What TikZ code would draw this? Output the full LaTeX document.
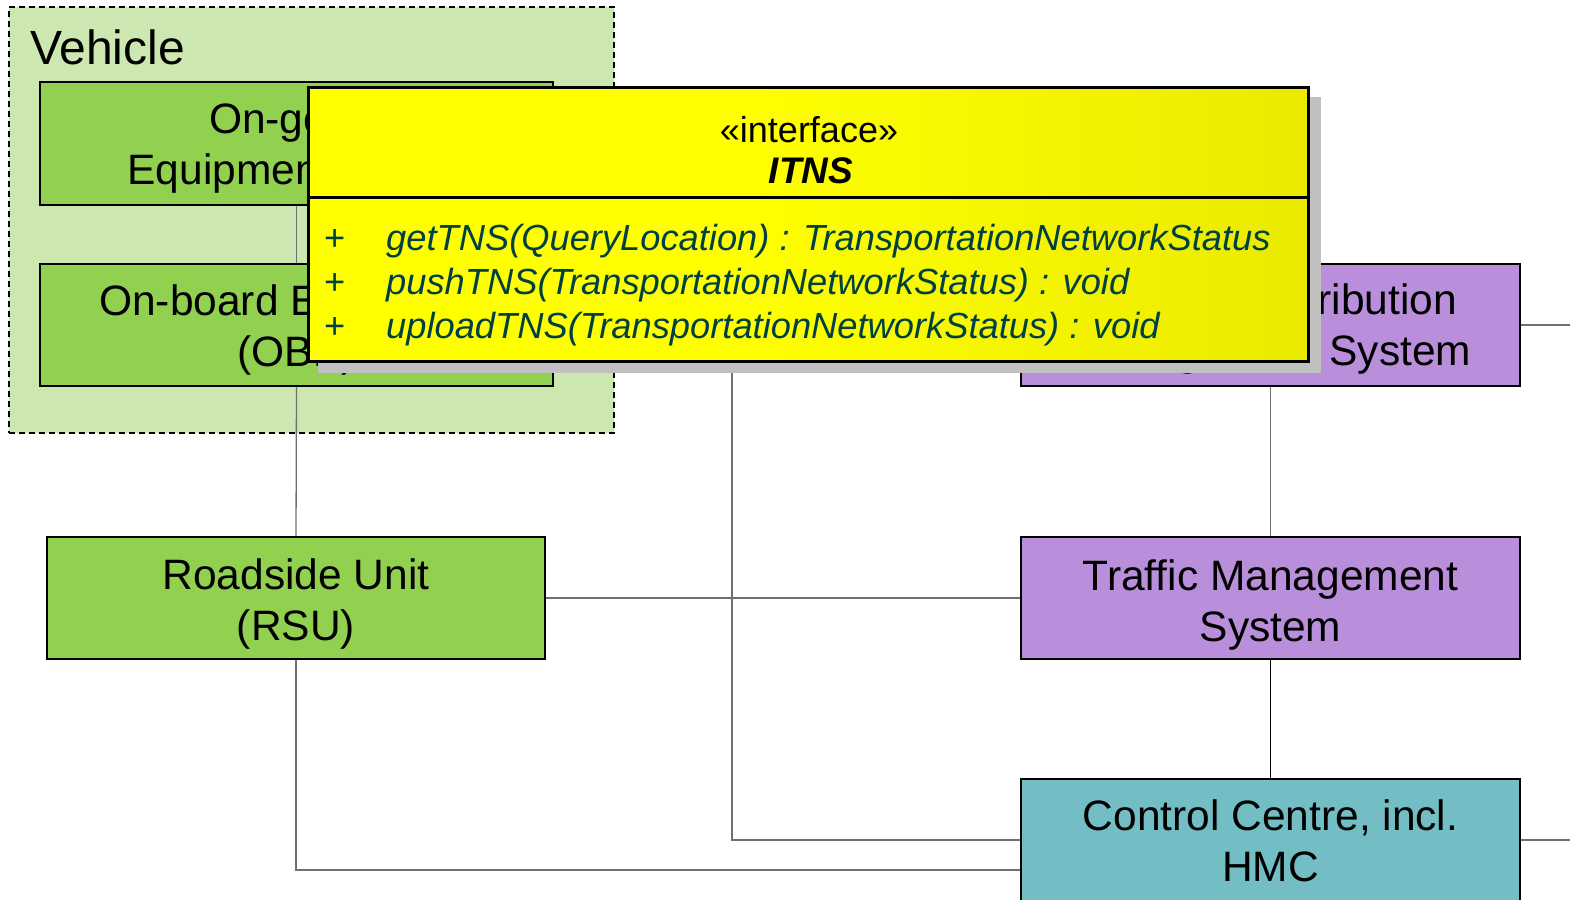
\documentclass[tikz,border=0pt]{standalone}
\usepackage{fontspec}
\setmainfont{Liberation Sans}
\usetikzlibrary{calc}

\definecolor{vehbg}{RGB}{204,232,176}
\definecolor{unitgreen}{RGB}{146,208,80}
\definecolor{sysviolet}{RGB}{185,142,218}
\definecolor{ctrlteal}{RGB}{114,190,196}
\definecolor{opteal}{RGB}{0,64,64}
\definecolor{ifyellow}{RGB}{255,255,0}
\definecolor{ifyellowdark}{RGB}{234,234,0}
\definecolor{shadowgray}{RGB}{192,192,192}
\definecolor{wiregray}{RGB}{112,112,112}

% yellow fill that darkens towards the right edge of the interface box
\pgfdeclarehorizontalshading{ifshade}{100bp}{%
  color(0bp)=(ifyellow); color(47bp)=(ifyellow);
  color(75bp)=(ifyellowdark); color(100bp)=(ifyellowdark)}

\newcommand\twolines[2]{\begin{tabular}[t]{@{}c@{}}#1\\#2\end{tabular}}

\tikzset{
  unitbox/.style={draw=black, line width=1.8pt, inner sep=0pt,
                  minimum width=499pt, minimum height=122pt},
  boxtext/.style={anchor=base, inner sep=0pt, font=\fontsize{42.5}{51}\selectfont},
  wire/.style={draw=wiregray, line width=1.3pt},
  strongwire/.style={draw=black, line width=1.3pt},
  optext/.style={anchor=base west, inner sep=0pt, text=opteal,
                 font=\fontsize{36.3}{44}\selectfont},
  opname/.style={optext, font=\fontsize{36.3}{44}\selectfont\itshape},
}

\begin{document}
\begin{tikzpicture}[x=1pt, y=-1pt]
\useasboundingbox (0,0) rectangle (1570,899);

% vehicle container
\node[draw=black, line width=1.5pt, dash pattern=on 6pt off 4pt, fill=vehbg,
      minimum width=605pt, minimum height=426pt, inner sep=0pt] (vehicle) at (311.5,220) {};
\node[anchor=base west, inner sep=0pt, font=\fontsize{48}{57}\selectfont] (vehicle-t) at (30,64) {Vehicle};

% units and systems
\node[unitbox, fill=unitgreen, minimum width=513pt, minimum height=123pt] (oge) at (296.5,143.5) {};
\node[unitbox, fill=unitgreen, minimum width=513pt] (obe) at (296.5,325) {};
\node[unitbox, fill=unitgreen, minimum width=498pt] (rsu) at (296,598) {};
\node[unitbox, fill=sysviolet] (ids) at (1270.5,325) {};
\node[unitbox, fill=sysviolet] (tms) at (1270.5,598) {};
\node[unitbox, fill=ctrlteal] (cc) at (1270.5,840) {};

% free ends of the connectors
\coordinate (tap) at (732,300);
\coordinate (idsout) at (1572,325);
\coordinate (ccout) at (1572,840);

% connectors
\draw[wire] (oge.south) -- (obe.north);
\draw[wire] (obe.south) -- (rsu.north);
\draw[wire] (rsu.east) -- (tms.west);
\draw[wire] (rsu.south) |- ([yshift=-30pt]cc.west);
\draw[wire] (tap) |- (cc.west);
\draw[wire] (ids.south) -- (tms.north);
\draw[strongwire] (tms.south) -- (cc.north);
\draw[wire] (ids.east) -- (idsout);
\draw[wire] (cc.east) -- (ccout);

% box labels
\node[boxtext] (oge-t) at ([yshift=10pt]oge.center) {\twolines{On-going~}{Equipment (OGE)}};
\node[boxtext] (obe-t) at ([yshift=10pt]obe.center) {\twolines{On-board Equipment~}{(OBE)}};
\node[boxtext] (rsu-t) at ([yshift=9pt]rsu.center) {\twolines{Roadside Unit}{(RSU)}};
\node[boxtext] (ids-t) at ([yshift=11pt]ids.center) {\twolines{Content Distribution}{Management System}};
\node[boxtext] (tms-t) at ([yshift=8pt]tms.center) {\twolines{Traffic Management}{System}};
\node[boxtext] (cc-t) at ([yshift=10pt]cc.center) {\twolines{Control Centre, incl.}{HMC}};

% interface class
\node[fill=shadowgray, inner sep=0pt, minimum width=1003pt, minimum height=276pt] (itns-shadow) at (819.5,235) {};
\node[draw=black, line width=3pt, shading=ifshade, inner sep=0pt,
      minimum width=1000pt, minimum height=274pt] (itns) at (808,224) {};
\coordinate (divider) at (0,197);
\draw[black, line width=3pt] (itns.west |- divider) -- (itns.east |- divider);

\node[anchor=base, inner sep=0pt, font=\fontsize{36}{44}\selectfont] (stereo) at (809,142) {«interface»};
\node[anchor=base, inner sep=0pt, font=\fontsize{37}{44}\selectfont\bfseries\itshape] (itns-name) at (811,183) {ITNS};

\node[optext] (op1-v) at (324,250) {+};
\node[optext] (op2-v) at (324,294) {+};
\node[optext] (op3-v) at (324,338) {+};
\node[opname] (op1) at (386,250) {getTNS(QueryLocation) : TransportationNetworkStatus};
\node[opname] (op2) at (386,294) {pushTNS(TransportationNetworkStatus) : void};
\node[opname] (op3) at (386,338) {uploadTNS(TransportationNetworkStatus) : void};
\end{tikzpicture}
\end{document}
